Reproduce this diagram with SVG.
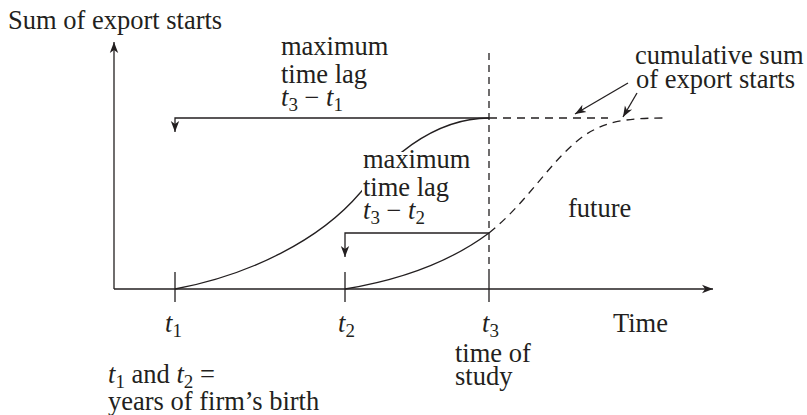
<svg xmlns="http://www.w3.org/2000/svg" width="807" height="415" viewBox="0 0 807 415">
<style>
text{font-family:"Liberation Serif","Times New Roman",serif;font-size:26.5px;fill:#231f20}
.i{font-style:italic}
.s{font-size:19px}
.ln{fill:none;stroke:#231f20;stroke-width:1.3}
.d{fill:none;stroke:#231f20;stroke-width:1.3;stroke-dasharray:8 6}
.dv{fill:none;stroke:#231f20;stroke-width:1.3;stroke-dasharray:7 5}
</style>
<defs>
<marker id="ah" viewBox="0 0 10 10" refX="10" refY="5" markerWidth="11" markerHeight="11" markerUnits="userSpaceOnUse" orient="auto">
<path d="M0,1.2 L10,5 L0,8.8 L2.8,5 Z" fill="#231f20"/>
</marker>
</defs>
<g id="axes">
<path class="ln" d="M114,289 V42" marker-end="url(#ah)"/>
<path class="ln" d="M114,289 H713" marker-end="url(#ah)"/>
<path class="ln" d="M175,272 V302 M345,272 V302 M489,272 V302"/>
<path class="dv" d="M489,53 V272"/>
</g>
<g id="connectors">
<path class="ln" d="M175,289 C250,275 320,240 360,193 C385,164 430,118 489,118"/>
<path class="ln" d="M345,289 C400,280 450,262 489,233"/>
<path class="d" d="M489,118 H608"/>
<path class="d" d="M489,233 C530,200 550,160 585,135 C605,122 625,118 663,118"/>
<path class="ln" d="M489,118 H175 V132" marker-end="url(#ah)"/>
<path class="ln" d="M489,233 H345 V257" marker-end="url(#ah)"/>
<path class="ln" d="M628,83 L575,114" marker-end="url(#ah)"/>
<path class="ln" d="M637,93 L623,117" marker-end="url(#ah)"/>
</g>
<g id="label-y"><text x="8" y="29">Sum of export starts</text></g>
<g id="label-lag1">
<text x="281" y="55">maximum</text>
<text x="281" y="83">time lag</text>
<text x="281" y="106"><tspan class="i">t</tspan><tspan class="s" dy="5">3</tspan><tspan dy="-5"> − </tspan><tspan class="i">t</tspan><tspan class="s" dy="5">1</tspan></text>
</g>
<g id="label-lag2">
<rect x="362" y="152" width="110" height="68" fill="#fff"/>
<text x="363" y="168">maximum</text>
<text x="363" y="196">time lag</text>
<text x="363" y="219"><tspan class="i">t</tspan><tspan class="s" dy="5">3</tspan><tspan dy="-5"> − </tspan><tspan class="i">t</tspan><tspan class="s" dy="5">2</tspan></text>
</g>
<g id="label-cum">
<text x="635" y="64">cumulative sum</text>
<text x="636" y="88">of export starts</text>
</g>
<g id="label-future"><text x="568" y="217">future</text></g>
<g id="label-t1"><text x="165" y="332"><tspan class="i">t</tspan><tspan class="s" dy="5">1</tspan></text></g>
<g id="label-t2"><text x="338" y="332"><tspan class="i">t</tspan><tspan class="s" dy="5">2</tspan></text></g>
<g id="label-t3"><text x="482" y="332"><tspan class="i">t</tspan><tspan class="s" dy="5">3</tspan></text></g>
<g id="label-time"><text x="613" y="332">Time</text></g>
<g id="label-study">
<text x="455" y="362">time of</text>
<text x="455" y="385">study</text>
</g>
<g id="label-birth">
<text x="108" y="383"><tspan class="i">t</tspan><tspan class="s" dy="5">1</tspan><tspan dy="-5"> and </tspan><tspan class="i">t</tspan><tspan class="s" dy="5">2</tspan><tspan dy="-5"> =</tspan></text>
<text x="108" y="410">years of firm’s birth</text>
</g>
</svg>
